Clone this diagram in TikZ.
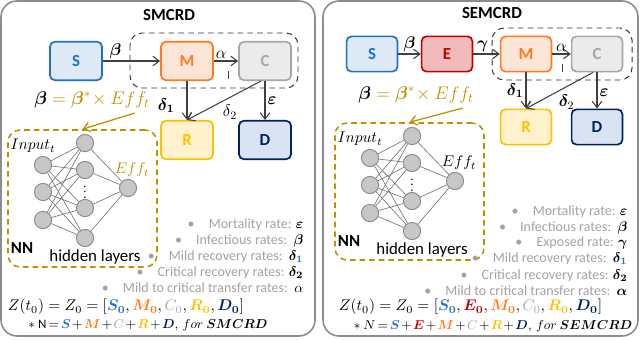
\RequirePackage{fix-cm}
\documentclass[tikz,border=0pt]{standalone}
\usepackage{amsmath}
\usepackage{bm}
\usepackage[no-math]{fontspec}
\setmainfont{Carlito}
\usetikzlibrary{arrows.meta}

\definecolor{panelgray}{HTML}{8C8C8C}
\definecolor{arrowgray}{HTML}{404040}
\definecolor{rategray}{HTML}{A3A3A3}
\definecolor{nngold}{HTML}{BF9000}
\definecolor{sblue}{HTML}{1F6FD1}
\definecolor{sfill}{HTML}{DEEBF7}
\definecolor{ered}{HTML}{C00000}
\definecolor{efill}{HTML}{F2BBBB}
\definecolor{morange}{HTML}{FF7A1F}
\definecolor{mfill}{HTML}{FBE5D6}
\definecolor{cgray}{HTML}{A6A6A6}
\definecolor{cfill}{HTML}{EBEBEB}
\definecolor{rgold}{HTML}{FFC000}
\definecolor{rfill}{HTML}{FFF2CC}
\definecolor{dnavy}{HTML}{002060}
\definecolor{dfill}{HTML}{DAE3F3}

\newcommand{\tightmath}{\medmuskip=2mu\relax\thickmuskip=3mu\relax}

% neural net block: #1 name prefix, #2 colour of the output label
\newcommand{\nnblock}[2]{%
  \node[nnbox] (#1box) at (82.5,198.5) {};
  \foreach \y [count=\i] in {165,192,220}
    \node[neuron] (#1in\i) at (43,\y) {};
  \foreach \y [count=\i] in {143,170,208,238}
    \node[neuron] (#1hid\i) at (85,\y) {};
  \node[neuron] (#1out) at (128,188) {};
  \foreach \i in {1,2,3}
    \foreach \j in {1,...,4}
      \draw[wire] (#1in\i) -- (#1hid\j);
  \foreach \j in {1,...,4}
    \draw[wire] (#1hid\j) -- (#1out);
  \node[font=\fontsize{9}{9}\selectfont, inner sep=0pt] (#1dots) at (85,188) {$\vdots$};
  \node[nnlbl] (#1inlbl) at (33,146) {$Input_t$};
  \node[nnlbl, text=#2] (#1efflbl) at (132,170) {$Eff_t$};
  \node[font=\fontsize{12}{14}\selectfont\bfseries] (#1nnlbl) at (22,248) {NN};
  \node[font=\fontsize{12}{14}\selectfont] (#1hidlbl) at (95,257) {hidden layers};
}

\begin{document}
\begin{tikzpicture}[
  x=0.25mm, y=-0.25mm,
  every node/.style={align=center},
  panel/.style={draw=panelgray, line width=1.1pt, rounded corners=4mm},
  title/.style={font=\fontsize{12}{14}\selectfont\bfseries},
  comp/.style={draw, rounded corners=1.2mm, line width=1.2pt, minimum width=13mm, minimum height=9.6mm, font=\fontsize{12}{14}\selectfont\bfseries},
  semsize/.style={minimum width=12.7mm, minimum height=8.8mm},
  sbox/.style={comp, draw=sblue, fill=sfill, text=sblue},
  ebox/.style={comp, draw=ered, fill=efill, text=ered},
  mbox/.style={comp, draw=morange, fill=mfill, text=morange},
  cbox/.style={comp, draw=cgray, fill=cfill, text=cgray},
  rbox/.style={comp, draw=rgold, fill=rfill, text=rgold},
  dbox/.style={comp, draw=dnavy, fill=dfill, text=dnavy},
  flow/.style={draw=arrowgray, line width=0.75pt, -{Straight Barb[length=1.6mm, width=2.4mm]}},
  tickmark/.style={draw=arrowgray, line width=0.6pt},
  group/.style={draw=black!80, line width=0.7pt, dash pattern=on 4pt off 3pt, rounded corners=3mm},
  lbl/.style={font=\fontsize{12}{14}\selectfont, inner sep=1.5pt},
  formula/.style={font=\fontsize{13}{15}\selectfont, text=nngold},
  goldarrow/.style={draw=nngold, line width=0.9pt, -{Straight Barb[length=1.6mm, width=2.4mm]}},
  nnbox/.style={draw=nngold, line width=1.1pt, dash pattern=on 1.4mm off 1mm, rounded corners=3mm, minimum width=37.25mm, minimum height=34.25mm, inner sep=0pt},
  neuron/.style={circle, draw=black!45, fill=black!22, line width=0.7pt, minimum size=4.3mm, inner sep=0pt},
  wire/.style={draw=black!55, line width=0.45pt},
  nnlbl/.style={font=\fontsize{11}{13}\selectfont},
  rate/.style={anchor=east, text=rategray, font=\fontsize{10}{12}\selectfont, inner sep=1pt},
  initline/.style={anchor=west, font=\fontsize{11}{13}\selectfont},
  sumline/.style={font=\fontsize{9.2}{11}\selectfont, execute at begin node=\tightmath}
]
\useasboundingbox (0,0) rectangle (640,339);

% ---------- SMCRD panel
\draw[panel] (1,1) rectangle (315,336);
\node[title] (ltitle) at (169,15) {SMCRD};
\node[sbox] (lS) at (76,61) {S};
\node[mbox] (lM) at (187,61) {M};
\node[cbox] (lC) at (265,61) {C};
\node[rbox] (lR) at (187,140) {R};
\node[dbox] (lD) at (265,140) {D};
\draw[group] (130,33) rectangle (298,88);
\draw[flow] (lS) -- node[lbl, above, pos=0.22] {$\bm\beta$} (lM);
\draw[flow] (lM) -- node[lbl, above, pos=0.3] {$\alpha$} (lC);
\draw[flow] (lM) -- node[lbl, left=2.5mm, pos=0.63] {$\bm\delta_{\bm1}$} (lR);
\draw[flow] ([xshift=-1mm]lC.south) -- node[lbl, below right, pos=0.55] {$\delta_2$} (lR.north);
\draw[flow] (lC) -- node[lbl, right, pos=0.5] {$\bm\varepsilon$} (lD);
\draw[tickmark] (228,71) -- (228,79);

\node[formula] (leff) at (92,100) {${\color{black}\bm\beta} = \bm\beta^{*}\!\times Eff_t$};
\nnblock{ln}{nngold}
\draw[goldarrow] ([xshift=-5mm]leff.south east) -- (lnbox.north);

\node[rate] (lrate1) at (305,225) {•\quad Mortality rate: {\color{black}$\bm\varepsilon$}};
\node[rate] (lrate2) at (305,241) {•\quad Infectious rates:~~{\color{black}$\bm\beta$}};
\node[rate] (lrate3) at (305,257) {•\quad Mild recovery rates:~~{\color{black}$\bm\delta_{\color{sblue}\bm1}$}};
\node[rate] (lrate4) at (305,273) {•\quad Critical recovery rates: {\color{black}$\bm\delta_{\bm2}$}};
\node[rate] (lrate5) at (305,288) {•\quad Mild to critical transfer rates:~~{\color{black}$\alpha$}};
\node[initline] (linit) at (3,307) {$Z(t_0) = Z_0 = [\textcolor{sblue}{\bm{S_0}}, \textcolor{morange}{\bm{M_0}}, \textcolor{cgray}{C_0}, \textcolor{rgold}{\bm{R_0}}, \textcolor{dnavy}{\bm{D_0}}]$};
\node[sumline] (lsum) at (148,325) {$*\ \text{N} = \textcolor{sblue}{\bm S} + \textcolor{morange}{\bm M} + \textcolor{cgray}{C} + \textcolor{rgold}{\bm R} + \textcolor{dnavy}{\bm D},\, for\ \bm{SMCRD}$};

% ---------- SEMCRD panel
\draw[panel] (323,1) rectangle (638,336);
\node[title] (rtitle) at (492,13) {SEMCRD};
\node[sbox, semsize] (rS) at (372,54) {S};
\node[ebox, semsize] (rE) at (447,54) {E};
\node[mbox, semsize] (rM) at (526,54) {M};
\node[cbox, semsize] (rC) at (597,54) {C};
\node[rbox, semsize] (rR) at (526,127) {R};
\node[dbox, semsize] (rD) at (597,127) {D};
\draw[group] (492,28) rectangle (632,80);
\draw[flow] (rS) -- node[lbl, above, pos=0.5] {$\bm\beta$} (rE);
\draw[flow] (rE) -- node[lbl, above, pos=0.35] {$\bm\gamma$} (rM);
\draw[flow] (rM) -- node[lbl, above, pos=0.5] {$\alpha$} (rC);
\draw[flow] (rM) -- node[lbl, left, pos=0.5] {$\bm\delta_{\bm1}$} (rR);
\draw[flow] ([xshift=-1mm]rC.south) -- node[lbl, below right, pos=0.55] {$\bm\delta_2$} (rR.north);
\draw[flow] (rC) -- node[lbl, right, pos=0.55] {$\bm\varepsilon$} (rD);
\draw[tickmark] (562,64) -- (562,72);

\node[formula] (reff) at (416,95) {${\color{black}\bm\beta} = \bm\beta^{*}\!\times Eff_t$};
\begin{scope}[shift={(327,-7)}]
\nnblock{rn}{black}
\end{scope}
\draw[goldarrow] ([xshift=-4mm]reff.south east) -- (rnbox.north);

\node[rate] (rrate1) at (629,212) {•\quad Mortality rate: {\color{black}$\bm\varepsilon$}};
\node[rate] (rrate2) at (629,228) {•\quad Infectious rates:~~{\color{black}$\bm\beta$}};
\node[rate] (rrate3) at (629,243) {•\quad Exposed rate: {\color{black}$\bm\gamma$}};
\node[rate] (rrate4) at (629,259) {•\quad Mild recovery rates:~~{\color{black}$\bm\delta_{\color{sblue}\bm1}$}};
\node[rate] (rrate5) at (629,276) {•\quad Critical recovery rates: {\color{black}$\bm\delta_{\bm2}$}};
\node[rate] (rrate6) at (629,291) {•\quad Mild to critical transfer rates:~~{\color{black}$\bm\alpha$}};
\node[initline] (rinit) at (334,307) {$Z(t_0) = Z_0 = [\textcolor{sblue}{\bm{S_0}}, \textcolor{ered}{\bm{E_0}}, \textcolor{morange}{\bm{M_0}}, \textcolor{cgray}{C_0}, \textcolor{rgold}{\bm{R_0}}, \textcolor{dnavy}{\bm{D_0}}]$};
\node[sumline] (rsum) at (493,326) {$*\ N = \textcolor{sblue}{\bm S} + \textcolor{ered}{\bm E} + \textcolor{morange}{\bm M} + \textcolor{cgray}{C} + \textcolor{rgold}{\bm R} + \textcolor{dnavy}{\bm D},\, for\ \bm{SEMCRD}$};
\end{tikzpicture}
\end{document}
